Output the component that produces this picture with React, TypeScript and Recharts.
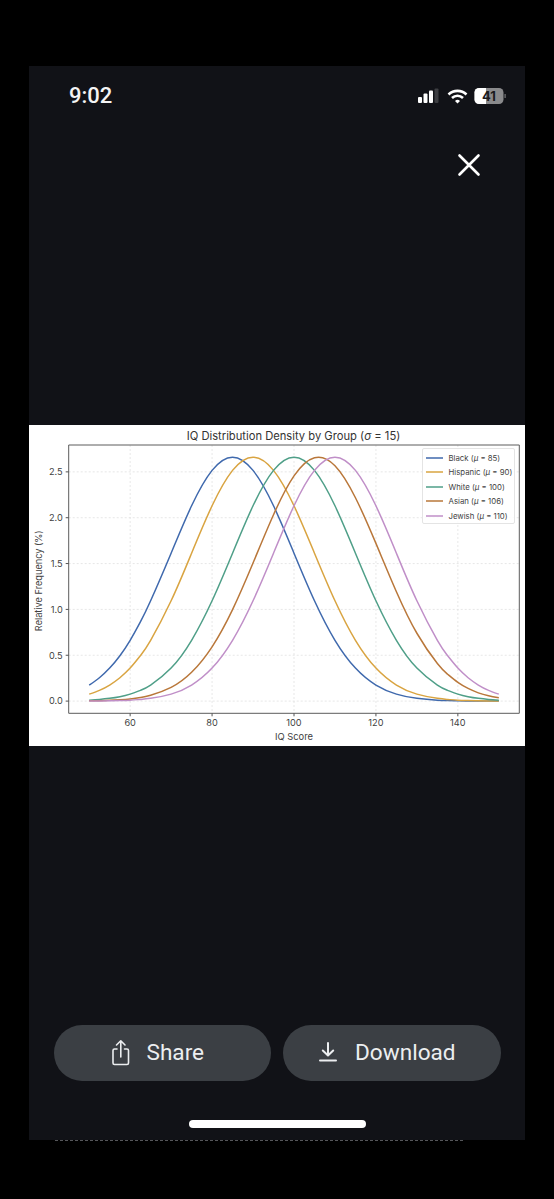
import { CartesianGrid, Legend, Line, LineChart, ReferenceArea, XAxis, YAxis } from "recharts";

const iq = [50, 52.5, 55, 57.5, 60, 62.5, 65, 70, 75, 80, 85, 90, 95, 100, 105, 110, 115, 120, 125, 130, 135, 137.5, 140, 142.5, 145, 147.5, 150];
const black = [0.175, 0.255, 0.36, 0.495, 0.663, 0.864, 1.094, 1.613, 2.13, 2.516, 2.66, 2.516, 2.13, 1.613, 1.094, 0.663, 0.36, 0.175, 0.076, 0.03, 0.01, 0.006, 0.003, 0.002, 0.001, 0, 0];
const hispanic = [0.076, 0.117, 0.175, 0.255, 0.36, 0.495, 0.663, 1.094, 1.613, 2.13, 2.516, 2.66, 2.516, 2.13, 1.613, 1.094, 0.663, 0.36, 0.175, 0.076, 0.03, 0.018, 0.01, 0.006, 0.003, 0.002, 0.001];
const white = [0.01, 0.018, 0.03, 0.048, 0.076, 0.117, 0.175, 0.36, 0.663, 1.094, 1.613, 2.13, 2.516, 2.66, 2.516, 2.13, 1.613, 1.094, 0.663, 0.36, 0.175, 0.117, 0.076, 0.048, 0.03, 0.018, 0.01];
const asian = [0.003, 0.005, 0.008, 0.014, 0.024, 0.04, 0.064, 0.149, 0.314, 0.592, 0.998, 1.506, 2.033, 2.456, 2.654, 2.567, 2.218, 1.72, 1.193, 0.74, 0.41, 0.293, 0.204, 0.138, 0.09, 0.058, 0.036];
const jewish = [0.001, 0.002, 0.003, 0.006, 0.01, 0.018, 0.03, 0.076, 0.175, 0.36, 0.663, 1.094, 1.613, 2.13, 2.516, 2.66, 2.516, 2.13, 1.613, 1.094, 0.663, 0.495, 0.36, 0.255, 0.175, 0.117, 0.076];

const xTicks = [60, 80, 100, 120, 140];
const yTicks = [0, 0.5, 1, 1.5, 2, 2.5];
const xDomain = [45, 155];
const yDomain = [-0.133, 2.793];

const groups = [
  { key: "black", label: "Black", mu: 85, color: "#3f69ad", values: black },
  { key: "hispanic", label: "Hispanic", mu: 90, color: "#d9a441", values: hispanic },
  { key: "white", label: "White", mu: 100, color: "#4f9f88", values: white },
  { key: "asian", label: "Asian", mu: 106, color: "#b9773a", values: asian },
  { key: "jewish", label: "Jewish", mu: 110, color: "#c08fc8", values: jewish },
];

const chartData = iq.map((x, i) => {
  const row: Record<string, number> = { x };
  groups.forEach((g) => {
    row[g.key] = g.values[i];
  });
  return row;
});

const font = "Inter, Roboto, sans-serif";
const ink = "#3f3f3f";

function LegendBox() {
  return (
    <div
      style={{
        boxSizing: "border-box",
        width: 93,
        height: 76,
        padding: "1.5px 0 0 2.5px",
        background: "rgba(255,255,255,0.85)",
        border: "1px solid #e4e4e4",
        borderRadius: 2,
        fontFamily: font,
        fontSize: 7.8,
        color: ink,
      }}
    >
      {groups.map((g) => (
        <div key={g.key} style={{ display: "flex", alignItems: "center", height: 14.5 }}>
          <svg width={17} height={4} style={{ marginRight: 6 }}>
            <line x1={0} x2={17} y1={2} y2={2} stroke={g.color} strokeWidth={1.5} />
          </svg>
          <span style={{ whiteSpace: "nowrap" }}>
            {g.label} (<i>μ</i> = {g.mu})
          </span>
        </div>
      ))}
    </div>
  );
}

function Box({ x, y, w, h, bg, radius, children }: any) {
  return (
    <div
      style={{
        position: "absolute",
        left: x,
        top: y,
        width: w,
        height: h,
        background: bg,
        borderRadius: radius,
      }}
    >
      {children}
    </div>
  );
}

function StatusIcons() {
  return (
    <svg width={100} height={30} style={{ position: "absolute", left: 410, top: 81 }}>
      <rect x={8} y={16} width={4} height={6} rx={1} fill="#fff" />
      <rect x={13.5} y={12.5} width={4} height={9.5} rx={1} fill="#fff" />
      <rect x={19} y={9.5} width={4} height={12.5} rx={1} fill="#fff" />
      <rect x={24.5} y={7.5} width={4} height={14.5} rx={1} fill="#3d3e42" />
      <path d="M38.5 13.5 a13 13 0 0 1 18 0" fill="none" stroke="#fff" strokeWidth={2.6} />
      <path d="M42 17 a8 8 0 0 1 11 0" fill="none" stroke="#fff" strokeWidth={2.6} />
      <path d="M45 20 l2.5 2.5 l2.5 -2.5 a3.6 3.6 0 0 0 -5 0z" fill="#fff" />
      <rect x={64.5} y={7} width={29} height={16} rx={4.5} fill="#8a8a8c" />
      <path d="M69 7 h7 v16 h-7 a4.5 4.5 0 0 1 -4.5 -4.5 v-7 a4.5 4.5 0 0 1 4.5 -4.5z" fill="#fff" />
      <rect x={94.5} y={13} width={1.2} height={4} fill="#77777a" />
      <text x={79} y={20} textAnchor="middle" fontFamily={font} fontSize={13} fontWeight={700} fill="#1b1b1d">
        41
      </text>
    </svg>
  );
}

function ShareIcon() {
  return (
    <svg width={20} height={28} style={{ position: "absolute", left: 57, top: 14 }} fill="none" stroke="#eceef0" strokeWidth={1.6} strokeLinecap="round" strokeLinejoin="round">
      <path d="M6 10 H3.5 a1.5 1.5 0 0 0 -1.5 1.5 V24 a1.5 1.5 0 0 0 1.5 1.5 H16 a1.5 1.5 0 0 0 1.5 -1.5 V11.5 A1.5 1.5 0 0 0 16 10 H13.5" />
      <path d="M9.8 18 V2 M5.5 6 L9.8 1.8 L14 6" />
    </svg>
  );
}

function DownloadIcon() {
  return (
    <svg width={20} height={24} style={{ position: "absolute", left: 36, top: 16 }} fill="none" stroke="#eceef0" strokeWidth={2} strokeLinecap="round" strokeLinejoin="round">
      <path d="M9 2 V14 M3.8 9.5 L9 14.5 L14.2 9.5" />
      <path d="M1 19.5 H17" />
    </svg>
  );
}

export default function App() {
  return (
    <div style={{ position: "absolute", left: 0, top: 0, width: 554, height: 1199, background: "#000", overflow: "hidden", fontFamily: font }}>
      <Box x={29} y={66} w={496} h={1074} bg="#111217" />

      <div style={{ position: "absolute", left: 69, top: 83, color: "#f4f4f4", fontSize: 22, fontWeight: 500, fontFamily: "Roboto, sans-serif" }}>9:02</div>
      <StatusIcons />
      <svg width={24} height={24} style={{ position: "absolute", left: 457, top: 153 }}>
        <path d="M2.5 2.5 L21.5 21.5 M21.5 2.5 L2.5 21.5" stroke="#fff" strokeWidth={2.6} strokeLinecap="round" />
      </svg>

      <Box x={29} y={425} w={496} h={321} bg="#fff">
        <div style={{ position: "absolute", left: 0, right: 0, top: 4, textAlign: "center", paddingLeft: 33, boxSizing: "border-box", fontSize: 11.2, color: "#333", whiteSpace: "nowrap" }}>
          IQ Distribution Density by Group (<i>σ</i> = 15)
        </div>
        <LineChart width={496} height={321} data={chartData} margin={{ top: 20, right: 5.7, bottom: 0, left: 0 }} style={{ position: "absolute", left: 0, top: 0 }}>
          <CartesianGrid stroke="#dcdcdc" strokeWidth={0.7} strokeDasharray="2 2" horizontalValues={yTicks} verticalValues={xTicks} />
          <ReferenceArea x1={xDomain[0]} x2={xDomain[1]} y1={yDomain[0]} y2={yDomain[1]} fill="none" stroke="#5c5c5c" strokeWidth={1} ifOverflow="visible" />
          <XAxis
            dataKey="x"
            type="number"
            domain={xDomain}
            ticks={xTicks}
            height={32.7}
            axisLine={false}
            tickSize={3}
            tickMargin={3}
            tick={{ fill: ink, fontSize: 9.2, fontFamily: font }}
            tickLine={{ stroke: "#555" }}
            label={{ value: "IQ Score", position: "insideBottom", offset: 6.5, fill: ink, fontSize: 9.4, fontFamily: font }}
          />
          <YAxis
            type="number"
            domain={yDomain}
            ticks={yTicks}
            width={39.7}
            axisLine={false}
            tickSize={3}
            tickMargin={3}
            tickFormatter={(v: number) => v.toFixed(1)}
            tick={{ fill: ink, fontSize: 9.2, fontFamily: font }}
            tickLine={{ stroke: "#555" }}
            label={{ value: "Relative Frequency (%)", angle: -90, position: "insideLeft", offset: 10, dy: 52, fill: ink, fontSize: 9.2, fontFamily: font }}
          />
          <Legend
            layout="horizontal"
            align="center"
            verticalAlign="middle"
            content={() => <LegendBox />}
            wrapperStyle={{ left: 393, top: 23, width: 93, height: 76, margin: 0 }}
          />
          {groups.map((g) => (
            <Line
              key={g.key}
              dataKey={g.key}
              name={`${g.label} (μ = ${g.mu})`}
              type="natural"
              stroke={g.color}
              strokeWidth={1.5}
              dot={false}
              isAnimationActive={false}
            />
          ))}
        </LineChart>
      </Box>

      <Box x={53.5} y={1025} w={217.5} h={56} bg="#3b3f44" radius={28}>
        <ShareIcon />
        <span style={{ position: "absolute", left: 93, top: 14, color: "#eceef0", fontSize: 22.6, fontFamily: "Roboto, sans-serif" }}>Share</span>
      </Box>
      <Box x={283} y={1025} w={217.5} h={56} bg="#3b3f44" radius={28}>
        <DownloadIcon />
        <span style={{ position: "absolute", left: 72, top: 14, color: "#eceef0", fontSize: 22.6, fontFamily: "Roboto, sans-serif" }}>Download</span>
      </Box>
      <Box x={188.5} y={1120} w={177} h={8} bg="#fff" radius={4} />
      <div style={{ position: "absolute", left: 55, top: 1140, width: 408, height: 0, borderTop: "1px dashed #55565a" }} />
    </div>
  );
}
